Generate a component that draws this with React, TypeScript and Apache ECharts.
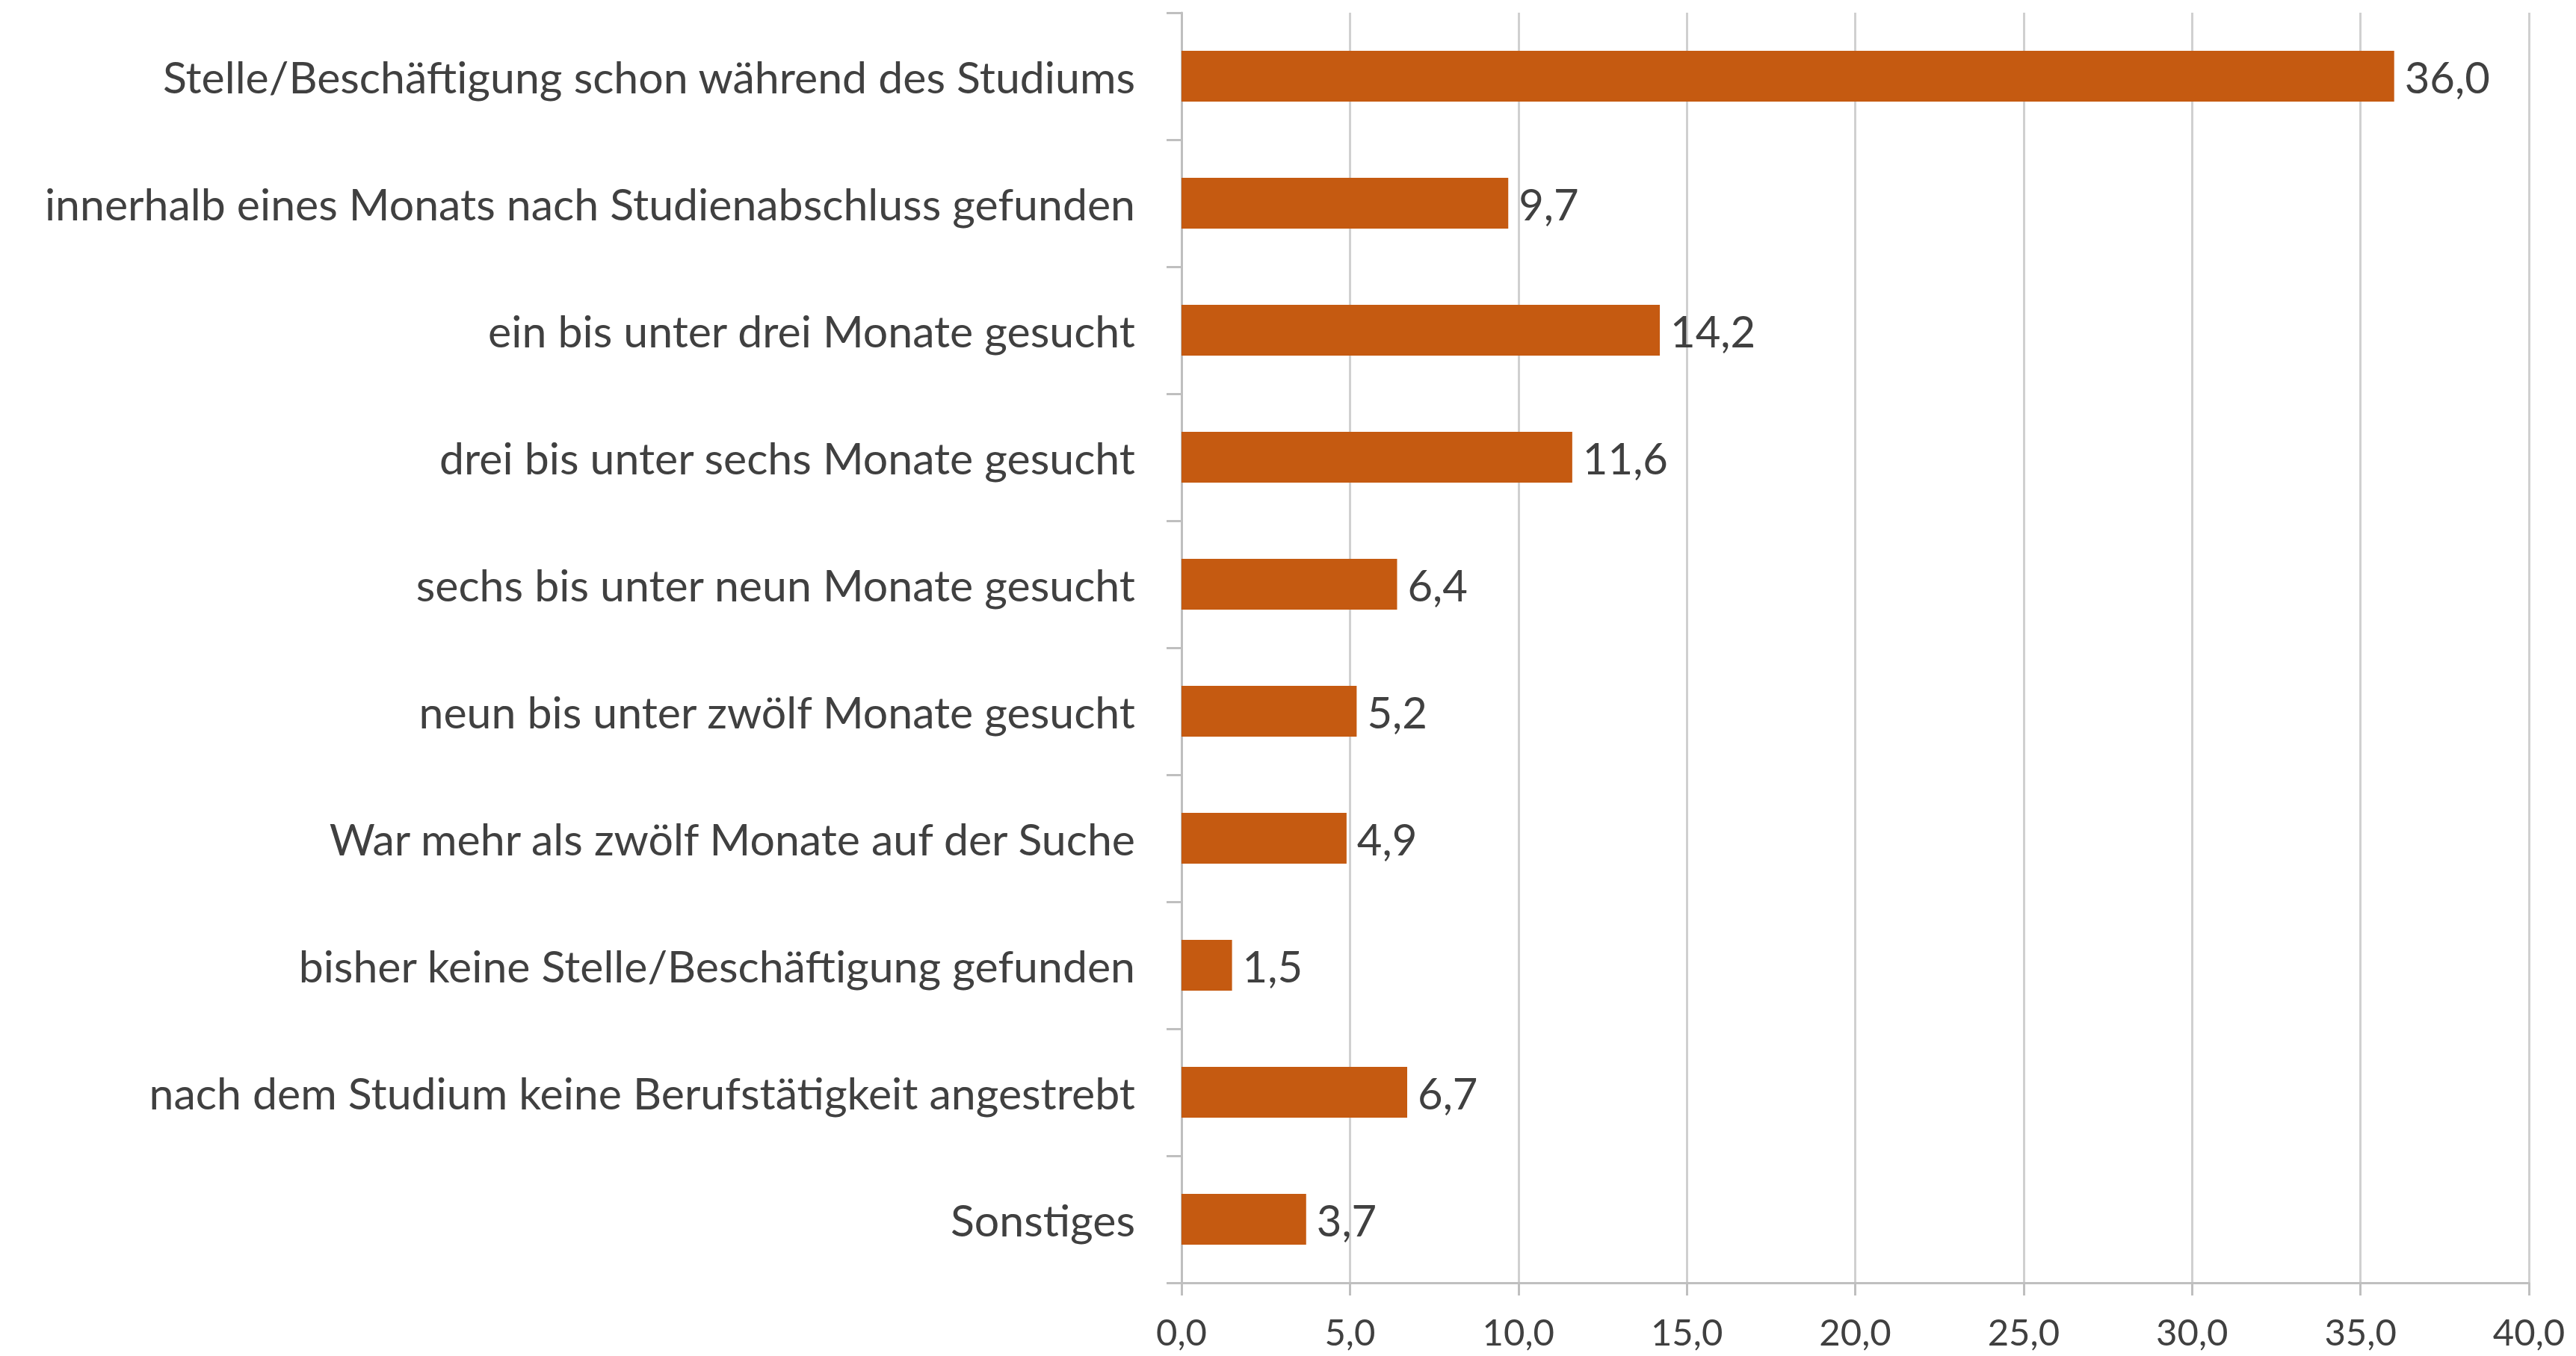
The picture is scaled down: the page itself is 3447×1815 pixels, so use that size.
import React, { useEffect, useRef } from "react";
import * as echarts from "echarts";

const categories = [
  "Stelle/Beschäftigung schon während des Studiums",
  "innerhalb eines Monats nach Studienabschluss gefunden",
  "ein bis unter drei Monate gesucht",
  "drei bis unter sechs Monate gesucht",
  "sechs bis unter neun Monate gesucht",
  "neun bis unter zwölf Monate gesucht",
  "War mehr als zwölf Monate auf der Suche",
  "bisher keine Stelle/Beschäftigung gefunden",
  "nach dem Studium keine Berufstätigkeit angestrebt",
  "Sonstiges",
];
const values = [36.0, 9.7, 14.2, 11.6, 6.4, 5.2, 4.9, 1.5, 6.7, 3.7];
const xMin = 0;
const xMax = 40;
const xInterval = 5;

const fmt = (v: number) => v.toFixed(1).replace(".", ",");

export default function App() {
  const ref = useRef<HTMLDivElement>(null);
  useEffect(() => {
    if (!ref.current) return;
    const chart = echarts.init(ref.current, null, { renderer: "svg" });
    const font = "Lato, 'Noto Sans', sans-serif";
    chart.setOption({
      animation: false,
      backgroundColor: "#ffffff",
      grid: { left: 1581, right: 63, top: 17, bottom: 98, containLabel: false },
      xAxis: {
        type: "value",
        min: xMin,
        max: xMax,
        interval: xInterval,
        axisLine: { show: true, lineStyle: { color: "#BFBFBF", width: 3 } },
        axisTick: { show: true, length: 17, lineStyle: { color: "#BFBFBF", width: 3 } },
        splitLine: { show: true, lineStyle: { color: "#D0D0D0", width: 3 } },
        axisLabel: {
          formatter: (v: number) => fmt(v),
          color: "#404040",
          fontFamily: font,
          fontSize: 49,
          margin: 40,
        },
      },
      yAxis: {
        type: "category",
        inverse: true,
        data: categories,
        axisLine: { show: true, lineStyle: { color: "#BFBFBF", width: 3 } },
        axisTick: { show: true, length: 20, lineStyle: { color: "#BFBFBF", width: 3 } },
        axisLabel: {
          color: "#404040",
          fontFamily: font,
          fontSize: 59,
          margin: 62,
        },
      },
      series: [
        {
          type: "bar",
          data: values,
          barCategoryGap: "60%",
          itemStyle: { color: "#C55A11" },
          label: {
            show: true,
            position: "right",
            distance: 14,
            formatter: (p: any) => fmt(p.value),
            color: "#404040",
            fontFamily: font,
            fontSize: 58,
          },
        },
      ],
    });
    return () => chart.dispose();
  }, []);
  return (
    <div
      ref={ref}
      style={{ position: "absolute", left: 0, top: 0, width: 3447, height: 1815 }}
    />
  );
}
